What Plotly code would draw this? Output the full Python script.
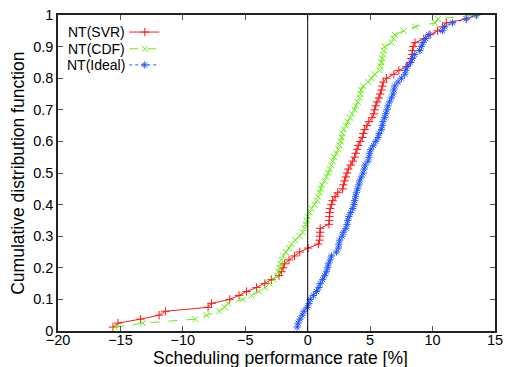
import plotly.graph_objects as go

# Sorted samples (scheduling performance rate, %)
svr_rates = [-15.6, -15.2, -13.4, -11.9, -11.4, -7.98, -7.7, -6.25, -5.5, -4.9,
             -4.1, -3.44, -2.9, -2.3, -2.1, -1.97, -1.85, -1.5, -1.05, -0.64,
             0.03, 0.85, 0.95, 0.96, 1.0, 1.0, 1.7, 1.72, 1.74, 1.76,
             1.8, 1.9, 2.0, 2.2, 2.4, 2.8, 2.85, 2.95, 3.05, 3.15,
             3.25, 3.45, 3.6, 3.75, 3.85, 3.95, 4.05, 4.2, 4.38, 4.45,
             4.56, 4.75, 4.9, 5.15, 5.3, 5.36, 5.45, 5.55, 5.7, 5.8,
             5.9, 5.97, 6.05, 6.3, 6.9, 7.3, 7.9, 8.2, 8.3, 8.35,
             8.4, 8.45, 8.6, 9.3, 9.8, 10.4, 10.8, 11.1, 12.7, 13.5]

cdf_rates = [-15.45, -13.2, -9.0, -8.1, -7.1, -6.65, -6.38, -5.2, -4.5, -3.9,
             -3.4, -3.05, -2.75, -2.45, -2.35, -2.25, -2.18, -2.1, -1.95, -1.75,
             -1.5, -1.3, -1.0, -0.65, -0.4, -0.25, -0.16, -0.08, 0.0, 0.15,
             0.3, 0.55, 0.75, 0.82, 0.95, 1.05, 1.15, 1.35, 1.5, 1.65,
             1.76, 1.9, 2.0, 2.12, 2.3, 2.45, 2.55, 2.65, 2.72, 2.78,
             2.9, 3.05, 3.2, 3.4, 3.55, 3.76, 3.85, 4.0, 4.16, 4.22,
             4.28, 4.45, 4.85, 5.1, 5.36, 5.76, 5.82, 5.9, 5.97, 6.03,
             6.1, 6.16, 6.7, 6.88, 6.97, 7.7, 8.6, 10.2, 10.45, 13.4]

ideal_rates = [-0.85, -0.77, -0.62, -0.45, -0.3, -0.05, 0.1, 0.2, 0.45, 0.7,
               0.9, 1.0, 1.2, 1.35, 1.5, 1.6, 1.66, 1.8, 1.9, 2.3,
               2.45, 2.5, 2.56, 2.75, 2.85, 3.05, 3.15, 3.2, 3.3, 3.45,
               3.6, 3.7, 3.76, 3.83, 3.9, 4.0, 4.1, 4.16, 4.3, 4.43,
               4.52, 4.6, 4.83, 4.9, 4.96, 5.05, 5.25, 5.45, 5.63, 5.72,
               5.9, 5.97, 6.03, 6.16, 6.25, 6.35, 6.43, 6.55, 6.7, 6.83,
               6.9, 6.97, 7.23, 7.5, 7.77, 7.85, 8.0, 8.25, 8.4, 8.57,
               8.97, 9.1, 9.24, 9.45, 9.7, 10.8, 10.97, 11.6, 12.7, 13.5]

series_names = ["NT(SVR)", "NT(CDF)", "NT(Ideal)"]
x_ticks = [-20, -15, -10, -5, 0, 5, 10, 15]
y_ticks = [0, 0.1, 0.2, 0.3, 0.4, 0.5, 0.6, 0.7, 0.8, 0.9, 1]
y_tick_labels = ["0", "0.1", "0.2", "0.3", "0.4", "0.5", "0.6", "0.7", "0.8", "0.9", "1"]


def ecdf(values):
    n = len(values)
    return [(i + 1) / n for i in range(n)]


styles = [
    dict(color="#ff1a1a", dash="solid", symbol="cross-thin-open"),
    dict(color="#66ee11", dash="dash", symbol="x-thin-open"),
    dict(color="#2255ff", dash="dot", symbol="asterisk-open"),
]
FONT = "Liberation Sans, Arial, Helvetica, sans-serif"

fig = go.Figure()
for name, vals, st in zip(series_names, [svr_rates, cdf_rates, ideal_rates], styles):
    fig.add_trace(go.Scatter(
        x=vals, y=ecdf(vals), mode="lines+markers", name=name,
        line=dict(color=st["color"], width=1, dash=st["dash"]),
        marker=dict(symbol=st["symbol"], size=6, color=st["color"],
                    line=dict(color=st["color"], width=1)),
        showlegend=False,
    ))

# gnuplot-style legend: text then line sample with marker on the right
legend_y = [0.946, 0.893, 0.842]
for name, st, ly in zip(series_names, styles, legend_y):
    fig.add_annotation(x=0.157, y=ly, xref="paper", yref="paper", text=name,
                       showarrow=False, xanchor="right", yanchor="middle",
                       font=dict(size=14, family=FONT, color="#000"))
    fig.add_trace(go.Scatter(
        x=[0.163, 0.232], y=[ly, ly], xaxis="x2", yaxis="y2",
        mode="lines", line=dict(color=st["color"], width=1, dash=st["dash"]),
        showlegend=False, hoverinfo="skip"))
    fig.add_trace(go.Scatter(
        x=[0.1985], y=[ly], xaxis="x2", yaxis="y2", mode="markers",
        marker=dict(symbol=st["symbol"], size=6, color=st["color"],
                    line=dict(color=st["color"], width=1)),
        showlegend=False, hoverinfo="skip"))

# vertical line at zero
fig.add_shape(type="line", x0=0, x1=0, y0=0, y1=1, xref="x", yref="y",
              line=dict(color="black", width=1))

# axis titles as annotations (fixed positions)
fig.add_annotation(x=0.51, y=-0.086, xref="paper", yref="paper", yanchor="middle",
                   text="Scheduling performance rate [%]", showarrow=False,
                   font=dict(size=17.5, family=FONT, color="#000"))
fig.add_annotation(x=-0.092, y=0.5, xref="paper", yref="paper", xanchor="center",
                   text="Cumulative distribution function", showarrow=False, textangle=-90,
                   font=dict(size=17.5, family=FONT, color="#000"))

axis_common = dict(showgrid=False, zeroline=False, showline=True, mirror="ticks",
                   linecolor="#222", linewidth=1.5, ticks="inside", ticklen=5,
                   tickcolor="#555", tickwidth=1, automargin=False,
                   tickfont=dict(size=14.5, family=FONT, color="#000"))
fig.update_layout(
    width=507, height=367,
    margin=dict(l=58, r=12, t=15, b=36),
    paper_bgcolor="white", plot_bgcolor="white",
    xaxis=dict(range=[-20, 15], tickvals=x_ticks, ticklabelstandoff=-5, **axis_common),
    yaxis=dict(range=[0, 1], tickvals=y_ticks, ticktext=y_tick_labels, **axis_common),
    xaxis2=dict(range=[0, 1], overlaying="x", visible=False),
    yaxis2=dict(range=[0, 1], overlaying="y", visible=False),
)

fig.write_html("out.html", config={"displayModeBar": False},
               post_script="document.body.style.margin='0';document.body.style.overflow='hidden';")
